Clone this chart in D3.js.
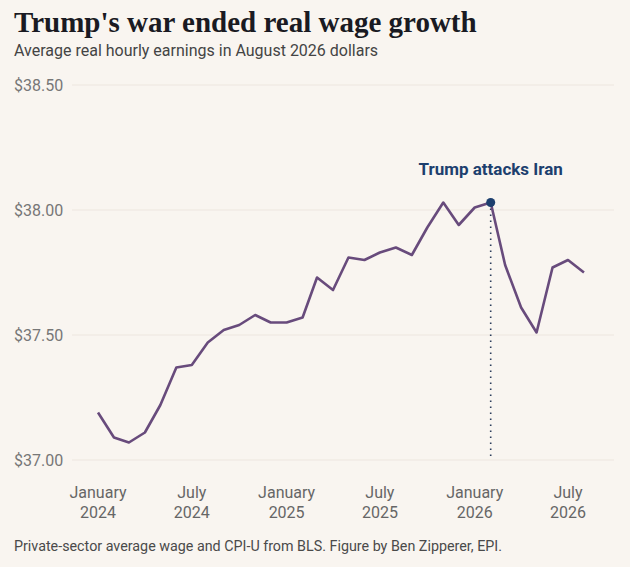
<!DOCTYPE html>
<html>
<head>
<meta charset="utf-8">
<script src="https://cdn.jsdelivr.net/npm/d3@7"></script>
<style>
  body { margin: 0; background: #f9f5f0; }
  text { font-family: Roboto, sans-serif; }
</style>
</head>
<body>
<div id="chart"></div>
<script>
// monthly average real hourly earnings, Jan 2024 - Aug 2026
const months = [
  "2024-01","2024-02","2024-03","2024-04","2024-05","2024-06","2024-07","2024-08",
  "2024-09","2024-10","2024-11","2024-12","2025-01","2025-02","2025-03","2025-04",
  "2025-05","2025-06","2025-07","2025-08","2025-09","2025-10","2025-11","2025-12",
  "2026-01","2026-02","2026-03","2026-04","2026-05","2026-06","2026-07","2026-08"
];
const wages = [
  37.19, 37.09, 37.07, 37.11, 37.22, 37.37, 37.38, 37.47,
  37.52, 37.54, 37.58, 37.55, 37.55, 37.57, 37.73, 37.68,
  37.81, 37.80, 37.83, 37.85, 37.82, 37.93, 38.03, 37.94,
  38.01, 38.03, 37.78, 37.61, 37.51, 37.77, 37.80, 37.75
];
const yTicks = [37.0, 37.5, 38.0, 38.5];
const xTicks = ["2024-01","2024-07","2025-01","2025-07","2026-01","2026-07"];
const eventMonth = "2026-02";
const eventLabel = "Trump attacks Iran";

const W = 630, H = 567;
const parse = d3.timeParse("%Y-%m");
const data = months.map((m, i) => ({ date: parse(m), value: wages[i] }));

const svg = d3.select("div#chart")
  .append("svg")
  .attr("width", W)
  .attr("height", H)
  .style("background-color", "#f9f5f0");

const x = d3.scaleTime()
  .domain([parse("2024-01"), parse("2026-07")])
  .range([98, 568]);

const y = d3.scaleLinear()
  .domain([37, 38.5])
  .range([460, 85]);

// title block
svg.append("text")
  .attr("x", 14).attr("y", 32)
  .style("font-family", "'Liberation Serif', serif")
  .style("font-weight", "bold")
  .style("font-size", "29px")
  .attr("fill", "#1a1a22")
  .text("Trump's war ended real wage growth");

svg.append("text")
  .attr("x", 14).attr("y", 56)
  .style("font-size", "16px")
  .attr("fill", "#444")
  .text("Average real hourly earnings in August 2026 dollars");

// y grid + labels
const yAxis = svg.append("g");
yAxis.selectAll("line")
  .data(yTicks)
  .enter()
  .append("line")
  .attr("x1", 72).attr("x2", 614)
  .attr("y1", d => y(d)).attr("y2", d => y(d))
  .attr("stroke", "#ede6df")
  .attr("stroke-width", 1);

yAxis.selectAll("text")
  .data(yTicks)
  .enter()
  .append("text")
  .attr("x", 14)
  .attr("y", d => y(d) + 5.5)
  .style("font-size", "16px")
  .attr("fill", "#777")
  .text(d => "$" + d3.format(".2f")(d));

// x labels
const xLab = svg.append("g")
  .selectAll("text")
  .data(xTicks)
  .enter()
  .append("text")
  .attr("text-anchor", "middle")
  .style("font-size", "16px")
  .attr("fill", "#666");
xLab.append("tspan")
  .attr("x", d => x(parse(d)))
  .attr("y", 498)
  .text(d => d3.timeFormat("%B")(parse(d)));
xLab.append("tspan")
  .attr("x", d => x(parse(d)))
  .attr("y", 518)
  .text(d => d3.timeFormat("%Y")(parse(d)));

// event marker
const ev = data.find(d => d3.timeFormat("%Y-%m")(d.date) === eventMonth);
svg.append("line")
  .attr("x1", x(ev.date)).attr("x2", x(ev.date))
  .attr("y1", y(ev.value)).attr("y2", y(37))
  .attr("stroke", "#2c3e5c")
  .attr("stroke-width", 1.6)
  .attr("stroke-dasharray", "1.5 4.5");

// line
const line = d3.line()
  .x(d => x(d.date))
  .y(d => y(d.value));

svg.append("path")
  .datum(data)
  .attr("d", line)
  .attr("fill", "none")
  .attr("stroke", "#684b7c")
  .attr("stroke-width", 2.6)
  .attr("stroke-linejoin", "round");

svg.append("circle")
  .attr("cx", x(ev.date))
  .attr("cy", y(ev.value))
  .attr("r", 4.5)
  .attr("fill", "#1d3f6e");

svg.append("text")
  .attr("x", x(ev.date))
  .attr("y", 175)
  .attr("text-anchor", "middle")
  .style("font-size", "17px")
  .style("font-weight", "bold")
  .attr("fill", "#1d3f6e")
  .text(eventLabel);

// footer
svg.append("text")
  .attr("x", 14).attr("y", 551)
  .style("font-size", "14.3px")
  .attr("fill", "#4a4a4a")
  .text("Private-sector average wage and CPI-U from BLS. Figure by Ben Zipperer, EPI.");
</script>
</body>
</html>
